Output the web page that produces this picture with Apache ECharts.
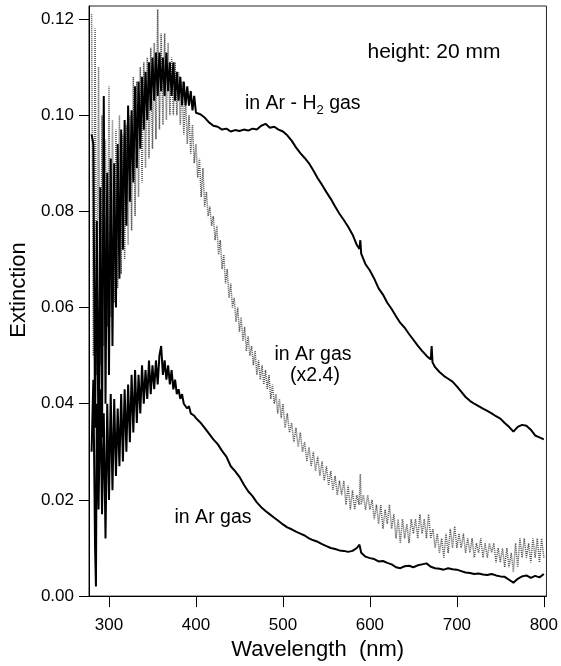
<!DOCTYPE html>
<html>
<head>
<meta charset="utf-8">
<script src="https://cdn.jsdelivr.net/npm/echarts@6/dist/echarts.min.js"></script>
<style>
  html, body { margin: 0; padding: 0; background: #fff; }
  #chart { width: 561px; height: 666px; }
</style>
</head>
<body>
<div id="chart"></div>
<script>
// tick labels
var xTicks = [300, 400, 500, 600, 700, 800];
var yTicks = [0, 0.02, 0.04, 0.06, 0.08, 0.10, 0.12];

// in Ar - H2 gas  [wavelength nm, extinction]
var arH2 = [
  [280,0.096],[282,0.094],[284,0.035],[286,0.078],[288,0.028],[290,0.085],[292,0.033],[294,0.104],
  [296,0.040],[298,0.088],[300,0.046],[302,0.091],[304,0.052],[306,0.090],[308,0.060],[310,0.094],
  [312,0.066],[314,0.097],[316,0.072],[318,0.099],[320,0.077],[322,0.102],[324,0.082],[326,0.101],
  [328,0.086],[330,0.106],[332,0.089],[334,0.107],[336,0.093],[338,0.108],[340,0.097],[342,0.109],
  [344,0.099],[346,0.111],[348,0.101],[350,0.112],[352,0.103],[354,0.113],[356,0.104],[358,0.113],
  [360,0.105],[362,0.112],[364,0.104],[366,0.113],[368,0.105],[370,0.111],[372,0.104],[374,0.111],
  [376,0.103],[378,0.109],[380,0.103],[382,0.108],[384,0.102],[386,0.107],[388,0.102],[390,0.106],
  [392,0.102],[394,0.105],[396,0.101],[398,0.104],[400,0.1005],
  [405,0.1002],[410,0.0995],[415,0.0985],[420,0.0978],[425,0.0976],[430,0.0970],[435,0.0972],
  [440,0.0966],[445,0.0969],[450,0.0967],[455,0.0970],[460,0.0968],[465,0.0972],[470,0.0970],
  [475,0.0978],[480,0.0982],[485,0.0974],[490,0.0976],[495,0.0970],[500,0.0966],[505,0.0958],
  [510,0.0947],[515,0.0933],[520,0.0921],[525,0.0911],[530,0.0900],[535,0.0885],[540,0.0869],
  [545,0.0855],[550,0.0840],[555,0.0826],[560,0.0810],[565,0.0795],[570,0.0782],[575,0.0768],
  [580,0.0752],[585,0.0730],[588,0.0722],[589,0.0740],[590,0.0712],[595,0.0690],[600,0.0677],
  [605,0.0660],[610,0.0640],[615,0.0627],[620,0.0610],[625,0.0597],[630,0.0582],[635,0.0568],
  [640,0.0558],[645,0.0545],[650,0.0533],[655,0.0521],[660,0.0510],[665,0.0500],[670,0.0492],
  [671,0.0520],[672,0.0486],[675,0.0476],[680,0.0466],[685,0.0458],[690,0.0452],[695,0.0446],
  [700,0.0436],[705,0.0425],[710,0.0414],[715,0.0406],[720,0.0400],[725,0.0395],[730,0.0390],
  [735,0.0385],[740,0.0380],[745,0.0374],[750,0.0369],[755,0.0360],[760,0.0352],[765,0.0342],
  [770,0.0352],[775,0.0356],[780,0.0354],[785,0.0346],[790,0.0334],[795,0.0330],[800,0.0326]
];

// in Ar gas, scaled x2.4 (grey, noisy)
var arX24 = [
  [280,0.121],[282,0.050],[284,0.118],[286,0.046],[288,0.110],[290,0.048],[292,0.100],[294,0.052],
  [296,0.095],[298,0.056],[300,0.106],[302,0.058],[304,0.099],[306,0.061],[308,0.097],[310,0.064],
  [312,0.100],[314,0.067],[316,0.096],[318,0.070],[320,0.098],[322,0.073],[324,0.100],[326,0.076],
  [328,0.108],[330,0.079],[332,0.107],[334,0.083],[336,0.110],[338,0.086],[340,0.111],[342,0.089],
  [344,0.112],[346,0.091],[348,0.114],[350,0.093],[352,0.115],[354,0.095],[356,0.122],[358,0.097],
  [360,0.117],[362,0.098],[364,0.117],[366,0.099],[368,0.115],[370,0.100],[372,0.112],[374,0.100],
  [376,0.111],[378,0.100],[380,0.109],[382,0.098],[384,0.107],[386,0.096],[388,0.104],[390,0.094],
  [392,0.100],[394,0.092],[396,0.098],[398,0.090],[400,0.094],
  [402,0.087],[404,0.091],[406,0.083],[408,0.089],[410,0.081],[412,0.084],[414,0.079],[416,0.081],
  [418,0.077],[420,0.079],[422,0.074],[424,0.077],[426,0.071],[428,0.074],[430,0.068],[432,0.071],
  [434,0.065],[436,0.068],[438,0.062],[440,0.065],[442,0.060],[444,0.062],[446,0.057],[448,0.060],
  [450,0.055],[452,0.058],[454,0.053],[456,0.056],[458,0.051],[460,0.054],[462,0.050],[464,0.052],
  [466,0.048],[468,0.051],[470,0.046],[472,0.049],[474,0.045],[476,0.048],[478,0.044],[480,0.047],
  [482,0.043],[484,0.046],[486,0.041],[488,0.044],[490,0.040],[492,0.042],[494,0.038],[496,0.041],
  [498,0.037],[500,0.040],
  [502.5,0.035],[505,0.038],[507.5,0.034],[510,0.036],[512.5,0.032],[515,0.035],[517.5,0.031],
  [520,0.034],[522.5,0.030],[525,0.032],[527.5,0.028],[530,0.031],[532.5,0.027],[535,0.030],
  [537.5,0.026],[540,0.029],[542.5,0.025],[545,0.028],[547.5,0.024],[550,0.027],[552.5,0.023],
  [555,0.026],[557.5,0.022],[560,0.025],[562.5,0.021],[565,0.024],[567.5,0.021],[570,0.024],
  [572.5,0.019],[575,0.023],[577.5,0.018],[580,0.022],[582.5,0.018],[585,0.021],[587.5,0.019],
  [589,0.0254],[590,0.019],[592.5,0.021],[595,0.018],[597.5,0.021],[600,0.018],[602.5,0.020],
  [605,0.016],[607.5,0.019],[610,0.015],[612.5,0.019],[615,0.014],[617.5,0.018],[620,0.015],
  [622.5,0.019],[625,0.014],[627.5,0.017],[630,0.012],[632.5,0.016],[635,0.011],[637.5,0.016],
  [640,0.012],[642.5,0.015],[645,0.011],[647.5,0.016],[650,0.013],[652.5,0.016],[655,0.012],
  [657.5,0.017],[660,0.013],[662.5,0.016],[665,0.012],[667.5,0.017],[670,0.012],[672.5,0.014],
  [675,0.010],[677.5,0.013],[680,0.009],[682.5,0.012],[685,0.008],[687.5,0.013],[690,0.009],
  [692.5,0.014],[695,0.010],[697.5,0.0145],[700,0.010],[702.5,0.013],[705,0.010],[707.5,0.013],
  [710,0.009],[712.5,0.012],[715,0.009],[717.5,0.012],[720,0.008],[722.5,0.011],[725,0.009],
  [727.5,0.012],[730,0.008],[732.5,0.011],[735,0.008],[737.5,0.011],[740,0.009],[742.5,0.011],
  [745,0.007],[747.5,0.010],[750,0.007],[752.5,0.010],[755,0.006],[757.5,0.010],[760,0.006],
  [762.5,0.009],[765,0.005],[767.5,0.011],[770,0.006],[772.5,0.012],[775,0.008],[777.5,0.012],
  [780,0.008],[782.5,0.011],[785,0.007],[787.5,0.012],[790,0.008],[792.5,0.012],[795,0.007],
  [797.5,0.012],[800,0.008]
];

// in Ar gas
var ar = [
  [280,0.030],[282,0.045],[284,0.010],[285,0.002],[286,0.040],[288,0.018],[290,0.043],[292,0.017],
  [294,0.038],[296,0.012],[298,0.040],[300,0.020],[302,0.042],[304,0.022],[306,0.041],[308,0.025],
  [310,0.039],[312,0.027],[314,0.042],[316,0.028],[318,0.043],[320,0.030],[322,0.044],[324,0.032],
  [326,0.046],[328,0.034],[330,0.047],[332,0.036],[334,0.046],[336,0.038],[338,0.048],[340,0.040],
  [342,0.047],[344,0.041],[346,0.049],[348,0.042],[350,0.048],[352,0.043],[354,0.049],[356,0.044],
  [358,0.050],[360,0.052],[362,0.046],[364,0.049],[366,0.045],[368,0.048],[370,0.044],[372,0.047],
  [374,0.043],[376,0.045],[378,0.042],[380,0.043],[382,0.041],[384,0.042],[386,0.040],[388,0.040],
  [390,0.039],[392,0.0395],[394,0.038],[396,0.038],[398,0.0375],[400,0.037],
  [405,0.0361],[410,0.0350],[415,0.0338],[420,0.0326],[425,0.0316],[430,0.0302],[435,0.0290],
  [440,0.0270],[445,0.0260],[450,0.0248],[455,0.0232],[460,0.0218],[465,0.0208],[470,0.0195],
  [475,0.0185],[480,0.0177],[485,0.0170],[490,0.0163],[495,0.0156],[500,0.0149],[505,0.0143],
  [510,0.0139],[515,0.0134],[520,0.0130],[525,0.0126],[530,0.0120],[535,0.0116],[540,0.0113],
  [545,0.0108],[550,0.0104],[555,0.0100],[560,0.0098],[565,0.0095],[570,0.0094],[575,0.0092],
  [580,0.0094],[585,0.0100],[588,0.0107],[590,0.0090],[595,0.0082],[600,0.0079],[605,0.0077],
  [610,0.0072],[615,0.0073],[620,0.0069],[625,0.0066],[630,0.0060],[635,0.0058],[640,0.0062],
  [645,0.0063],[650,0.0060],[655,0.0064],[660,0.0066],[665,0.0068],[670,0.0061],[675,0.0058],
  [680,0.0057],[685,0.0055],[690,0.0058],[695,0.0056],[700,0.0055],[705,0.0052],[710,0.0049],
  [715,0.0048],[720,0.0046],[725,0.0047],[730,0.0045],[735,0.0044],[740,0.0046],[745,0.0043],
  [750,0.0041],[755,0.0040],[760,0.0034],[765,0.0028],[770,0.0036],[775,0.0041],[780,0.0043],
  [785,0.0038],[790,0.0042],[795,0.0039],[800,0.0046]
];

var FONT = 'Liberation Sans';
var myChart = echarts.init(document.getElementById('chart'));

var option = {
  animation: false,
  backgroundColor: '#fff',
  grid: {
    left: 87, right: 9, top: 6, bottom: 66,
    show: true, borderColor: '#222', borderWidth: 1
  },
  xAxis: {
    type: 'value',
    min: 277, max: 803,
    name: 'Wavelength  (nm)',
    nameLocation: 'middle',
    nameGap: 42,
    nameTextStyle: { fontFamily: FONT, fontSize: 22, color: '#000' },
    axisLine: { show: true, onZero: false, lineStyle: { color: '#000', width: 1 } },
    axisTick: { show: true, length: 11, customValues: xTicks, lineStyle: { color: '#000' } },
    axisLabel: { customValues: xTicks, margin: 21, fontFamily: FONT, fontSize: 17, color: '#000' },
    splitLine: { show: false }
  },
  yAxis: {
    type: 'value',
    min: 0, max: 0.1227,
    name: 'Extinction',
    nameLocation: 'middle',
    nameGap: 55,
    nameTextStyle: { fontFamily: FONT, fontSize: 22, color: '#000', padding: [0, 0, 0, 22] },
    axisLine: { show: true, lineStyle: { color: '#000', width: 1 } },
    axisTick: { show: true, length: 10, customValues: yTicks, lineStyle: { color: '#000' } },
    axisLabel: {
      customValues: yTicks, margin: 15, fontFamily: FONT, fontSize: 17, color: '#000',
      formatter: function (v) { return v.toFixed(2); }
    },
    splitLine: { show: false }
  },
  series: [
    {
      name: 'in Ar gas (x2.4)', type: 'line', data: arX24, showSymbol: false, z: 1,
      lineStyle: { color: '#555', width: 1.5, type: [1, 1] }
    },
    {
      name: 'in Ar - H2 gas', type: 'line', data: arH2, showSymbol: false, z: 3,
      lineStyle: { color: '#000', width: 2 }
    },
    {
      name: 'in Ar gas', type: 'line', data: ar, showSymbol: false, z: 3,
      lineStyle: { color: '#000', width: 2 }
    }
  ],
  graphic: [
    { type: 'text', x: 434, y: 52, style: { text: 'height: 20 mm', font: '21px "Liberation Sans"', fill: '#000', align: 'center', verticalAlign: 'middle' } },
    {
      type: 'text', x: 245, y: 104,
      style: {
        text: '{a|in Ar - H}{s|2}{a| gas}', align: 'left', verticalAlign: 'middle',
        rich: {
          a: { fontFamily: FONT, fontSize: 19.5, fill: '#000', lineHeight: 26, verticalAlign: 'middle' },
          s: { fontFamily: FONT, fontSize: 13, fill: '#000', lineHeight: 26, verticalAlign: 'bottom' }
        }
      }
    },
    { type: 'text', x: 313, y: 355, style: { text: 'in Ar gas', font: '19.5px "Liberation Sans"', fill: '#000', align: 'center', verticalAlign: 'middle' } },
    { type: 'text', x: 315, y: 376, style: { text: '(x2.4)', font: '19.5px "Liberation Sans"', fill: '#000', align: 'center', verticalAlign: 'middle' } },
    { type: 'text', x: 213, y: 518, style: { text: 'in Ar gas', font: '19.5px "Liberation Sans"', fill: '#000', align: 'center', verticalAlign: 'middle' } }
  ]
};

myChart.setOption(option);
</script>
</body>
</html>
